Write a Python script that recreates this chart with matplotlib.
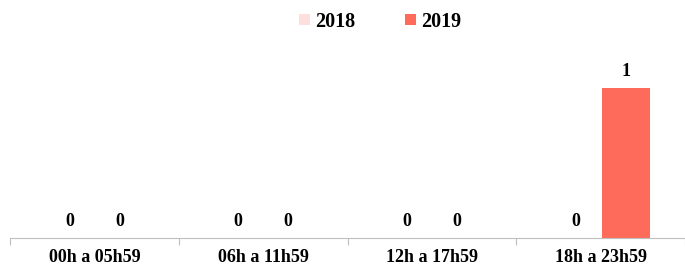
import numpy as np
import matplotlib.pyplot as plt

# Dados
categorias = ['00h a 05h59', '06h a 11h59', '12h a 17h59', '18h a 23h59']
anos = ['2018', '2019']
valores_2018 = [0, 0, 0, 0]
valores_2019 = [0, 0, 0, 1]
cores = ['#FFDEDE', '#FF6B5B']

plt.rcParams['font.family'] = ['Liberation Serif', 'DejaVu Serif']

fig = plt.figure(figsize=(6.85, 2.67), dpi=100)
ax = fig.add_axes([10 / 685, 29 / 267, 675 / 685, 198 / 267])

x = np.arange(len(categorias))
largura = 0.285
desloc = 0.148

for i, (vals, ano) in enumerate(zip([valores_2018, valores_2019], anos)):
    pos = x + (i * 2 - 1) * desloc
    barras = ax.bar(pos, vals, largura, color=cores[i], label=ano)
    for p, v in zip(pos, vals):
        ax.text(p, v + 0.05, str(v), ha='center', va='bottom',
                fontsize=13, fontweight='bold')

ax.set_xlim(-0.5, len(categorias) - 0.5)
ax.set_ylim(0, 1.32)
ax.set_yticks([])
for s in ['top', 'right', 'left']:
    ax.spines[s].set_visible(False)
ax.spines['bottom'].set_color('#BFBFBF')

ax.set_xticks(np.arange(-0.5, len(categorias)), minor=False)
ax.set_xticklabels([])
ax.tick_params(axis='x', length=5, color='#BFBFBF', direction='out')
ax.set_xticks(x, minor=True)
ax.set_xticklabels(categorias, minor=True, fontsize=13, fontweight='bold')
ax.tick_params(axis='x', which='minor', length=0, pad=8)

fig.legend(loc='center', bbox_to_anchor=(0.555, 0.918), ncol=2, frameon=False,
           prop={'size': 14.5, 'weight': 'bold'}, handlelength=0.55, handleheight=0.45,
           handletextpad=0.25, columnspacing=2.5)

fig.savefig('out.png', dpi=100)
